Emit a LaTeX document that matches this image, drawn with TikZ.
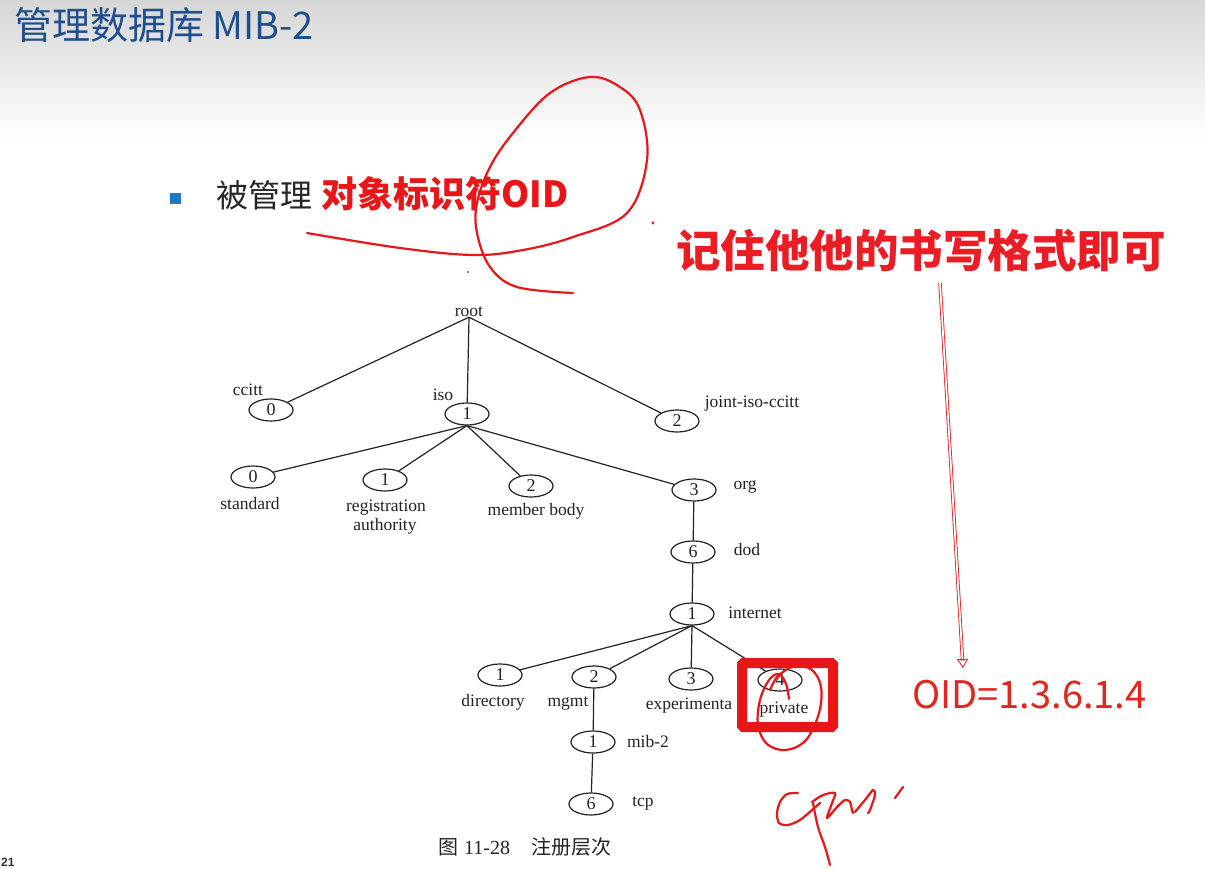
\documentclass[tikz,border=0pt]{standalone}
\usepackage{fontspec}
\setmainfont{Liberation Serif}
\newfontfamily\cjk{Noto Sans CJK SC}
\newfontfamily\bookfont{Liberation Serif}
\newfontfamily\pagefont{Liberation Sans}
\usetikzlibrary{shapes.geometric,arrows.meta,calc}

\definecolor{titleblue}{RGB}{31,78,140}
\definecolor{bulletblue}{RGB}{30,120,200}
\definecolor{inkred}{RGB}{232,22,24}
\definecolor{notered}{RGB}{236,28,36}
\definecolor{oidred}{RGB}{226,38,30}
\definecolor{treeink}{RGB}{35,35,35}

\tikzset{
  oidnode/.style={ellipse, draw=treeink, line width=1.2pt, minimum width=44, minimum height=22,
    inner sep=0pt, font=\bookfont\fontsize{18}{18}\selectfont, text=treeink},
  lbl/.style={inner sep=0pt, font=\bookfont\fontsize{17.5}{19}\selectfont, text=treeink, align=center},
  edge/.style={draw=treeink, line width=1.2pt},
  pen/.style={draw=inkred, line width=2.2pt, line cap=round, line join=round},
}

\begin{document}
\begin{tikzpicture}[x=1pt,y=-1pt]
\useasboundingbox (0,0) rectangle (1205,869);
\fill[white] (0,0) rectangle (1205,869);

% slide header band
\shade[top color=black!16, bottom color=white] (0,0) rectangle (1205,140);

% slide title
\node[anchor=west, inner sep=0pt, text=titleblue, font=\cjk\fontsize{38}{38}\selectfont] (title) at (14,25) {管理数据库 MIB-2};

% bullet line
\fill[bulletblue] (170,193) rectangle (181,204);
\node[anchor=west, inner sep=0pt, text=black!85, font=\cjk\fontsize{32}{32}\selectfont] (bul) at (216,195) {被管理};
\node[anchor=west, inner sep=0pt, text=inkred, font=\cjk\bfseries\fontsize{36}{36}\selectfont] (oidtxt) at (321,194) {对象标识符OID};

% ---------------- registration tree ----------------
\node[lbl] (root) at (469,312) {root};

\node[oidnode] (n0) at (271,410) {0};
\node[oidnode] (n1) at (467,414) {1};
\node[oidnode] (n2) at (677,421) {2};
\node[lbl] (l0) at (248,390) {ccitt};
\node[lbl] (l1) at (443,395) {iso};
\node[lbl] (l2) at (752,404) {joint-iso-ccitt};

\node[oidnode] (s0) at (253,477) {0};
\node[oidnode] (s1) at (385,480) {1};
\node[oidnode] (s2) at (531,486) {2};
\node[oidnode] (org) at (694,490) {3};
\node[lbl] (ls0) at (250,504) {standard};
\node[lbl] (ls1) at (386,508) {registration};
\node[lbl] (ls1b) at (385,526) {authority};
\node[lbl] (ls2) at (536,511) {member body};
\node[lbl] (lorg) at (745,487) {org};

\node[oidnode] (dod) at (693,552) {6};
\node[lbl] (ldod) at (747,550) {dod};
\node[oidnode] (inet) at (692,614) {1};
\node[lbl] (linet) at (755,613) {internet};

\node[oidnode] (dir) at (500,675) {1};
\node[oidnode] (mgmt) at (594,677) {2};
\node[oidnode] (exp) at (691,679) {3};
\node[oidnode] (priv) at (780,680) {4};
\node[lbl] (ldir) at (493,702) {directory};
\node[lbl] (lmgmt) at (568,703) {mgmt};
\node[lbl] (lexp) at (689,706) {experimenta};
\node[lbl] (lpriv) at (784,710) {private};

\node[oidnode] (mib) at (593,742) {1};
\node[lbl] (lmib) at (648,742) {mib-2};
\node[oidnode] (tcp) at (591,804) {6};
\node[lbl] (ltcp) at (643,803) {tcp};

\draw[edge] (root.south) -- (n0);
\draw[edge] (root.south) -- (n1);
\draw[edge] (root.south) -- (n2);
\draw[edge] (n1.south) -- (s0);
\draw[edge] (n1.south) -- (s1);
\draw[edge] (n1.south) -- (s2);
\draw[edge] (n1.south) -- (org);
\draw[edge] (org) -- (dod);
\draw[edge] (dod) -- (inet);
\draw[edge] (inet.south) -- (dir);
\draw[edge] (inet.south) -- (mgmt);
\draw[edge] (inet.south) -- (exp);
\draw[edge] (inet.south) -- (priv);
\draw[edge] (mgmt) -- (mib);
\draw[edge] (mib) -- (tcp);

% figure caption
\node[anchor=west, inner sep=0pt, text=treeink] (cap) at (438,847)
  {{\cjk\fontsize{20}{20}\selectfont 图}\hspace{6pt}{\bookfont\fontsize{20}{20}\selectfont 11-28}\hspace{21pt}{\cjk\fontsize{20}{20}\selectfont 注册层次}};

% page number
\node[anchor=west, inner sep=0pt, text=black!80, font=\pagefont\bfseries\fontsize{12}{12}\selectfont] (page) at (1,862) {21};

% ---------------- annotations ----------------
\node[anchor=west, inner sep=0pt, text=notered, font=\cjk\bfseries\fontsize{44.5}{44.5}\selectfont] (note) at (676,250) {记住他他的书写格式即可};
\node[anchor=west, inner sep=0pt, text=oidred, font=\cjk\fontsize{38}{38}\selectfont] (oid) at (912,695) {OID=1.3.6.1.4};

\coordinate (arrA) at (940,283);
\coordinate (arrB) at (963,668);
\draw[draw=inkred, line width=0.8pt, double=white, double distance=1.8pt, shorten >=7pt] (arrA) -- (arrB);
\draw[draw=inkred, line width=0.8pt, -{Triangle[open, width=11pt, length=9pt]}] ($(arrB)!9pt!(arrA)$) -- (arrB);

% highlight box on "private"
\draw[draw=inkred, line width=10pt, rounded corners=1.5pt] (742,663) rectangle (833,727);

% pen strokes
\draw[pen] plot[smooth, tension=0.6] coordinates {(307,233) (400,248) (473,255) (523,250) (573,237) (627,213) (647,160) (640,110) (620,87) (590,77) (550,93) (513,133) (490,167) (477,203) (477,233) (490,267) (517,287) (573,293)};
\draw[pen] plot[smooth, tension=0.6] coordinates {(789,699) (786,684) (779,674) (769,680) (760,700) (758,725) (767,744) (786,750) (806,740) (819,713) (821,687) (812,670) (795,666) (778,676) (770,690)};
\draw[pen] plot[smooth, tension=0.5] coordinates {(798,793) (787,794) (780,802) (777,813) (779,823) (788,825) (800,820) (812,810) (820,803)};
\draw[pen] plot[smooth, tension=0.6] coordinates {(813,803) (818,827) (825,847) (830,865)};
\draw[pen] plot[smooth, tension=0.5] coordinates {(812,802) (823,795) (835,793) (832,803) (827,818) (837,807) (845,800) (850,802) (852,810) (853,813)};
\draw[pen] plot[smooth, tension=0.5] coordinates {(855,812) (865,800) (873,790) (875,795) (870,810) (868,813)};
\draw[pen] (895,798) -- (903,787);
\fill[inkred] (653,223) circle (1.6pt);
\fill[black!60] (468,272) circle (1.2pt);
\end{tikzpicture}
\end{document}
